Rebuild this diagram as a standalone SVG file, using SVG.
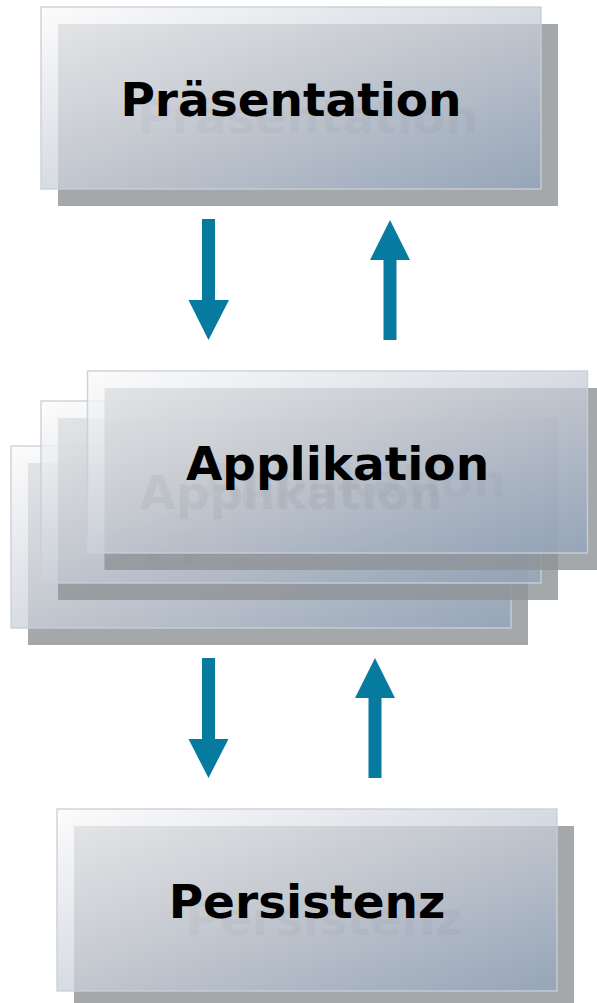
<svg xmlns="http://www.w3.org/2000/svg" width="597" height="1003" viewBox="0 0 597 1003">
<defs>
<linearGradient id="g" x1="0" y1="0" x2="1" y2="1">
<stop offset="0" stop-color="#fbfbfb"/>
<stop offset="0.45" stop-color="#d1d5dd"/>
<stop offset="1" stop-color="#92a4bc"/>
</linearGradient>
<style>
.sh{fill:#8d9296;fill-opacity:0.8}
.fr{fill:url(#g);fill-opacity:0.77;stroke:#c9ced8;stroke-opacity:0.9;stroke-width:1.5}
.lbl{font-family:"DejaVu Sans",Verdana,sans-serif;font-weight:bold;font-size:47px;text-anchor:middle;fill:#000}
.lsh{font-family:"DejaVu Sans",Verdana,sans-serif;font-weight:bold;font-size:47px;text-anchor:middle;fill:#1c262d;fill-opacity:0.2}
.ar{fill:#077b9f}
</style>
</defs>
<rect width="597" height="1003" fill="#fff"/>
<g id="praesentation">
<rect class="sh" x="58" y="24" width="500" height="182"/>
<text class="lsh" x="308" y="133">Präsentation</text>
<rect class="fr" x="41" y="7" width="500" height="182"/>
<text class="lbl" x="291" y="116">Präsentation</text>
</g>
<g id="applikation-back">
<rect class="sh" x="28" y="463" width="500" height="182"/>
<text class="lsh" x="278" y="571">Applikation</text>
<rect class="fr" x="11" y="446" width="500" height="182"/>
<text class="lbl" x="261" y="554">Applikation</text>
</g>
<g id="applikation-mid">
<rect class="sh" x="58" y="418" width="500" height="182"/>
<text class="lsh" x="308" y="526">Applikation</text>
<rect class="fr" x="41" y="401" width="500" height="182"/>
<text class="lbl" x="291" y="509">Applikation</text>
</g>
<g id="applikation">
<rect class="sh" x="104.5" y="388" width="500" height="182"/>
<text class="lsh" x="354.5" y="497">Applikation</text>
<rect class="fr" x="87.5" y="371" width="500" height="182"/>
<text class="lbl" x="337.5" y="480">Applikation</text>
</g>
<g id="persistenz">
<rect class="sh" x="74" y="826" width="500" height="182"/>
<text class="lsh" x="324" y="935">Persistenz</text>
<rect class="fr" x="57" y="809" width="500" height="182"/>
<text class="lbl" x="307" y="918">Persistenz</text>
</g>
<g id="connectors">
<polygon class="ar" points="202,219 215,219 215,300 229,300 208.5,340 188.5,300 202,300"/>
<polygon class="ar" points="390,220 410,260 396.5,260 396.5,340 383.5,340 383.5,260 370,260"/>
<polygon class="ar" points="202,658 215,658 215,739 228.5,739 208.5,778 188.5,739 202,739"/>
<polygon class="ar" points="375,658 395,698 381.5,698 381.5,778 368.5,778 368.5,698 355,698"/>
</g>
</svg>
